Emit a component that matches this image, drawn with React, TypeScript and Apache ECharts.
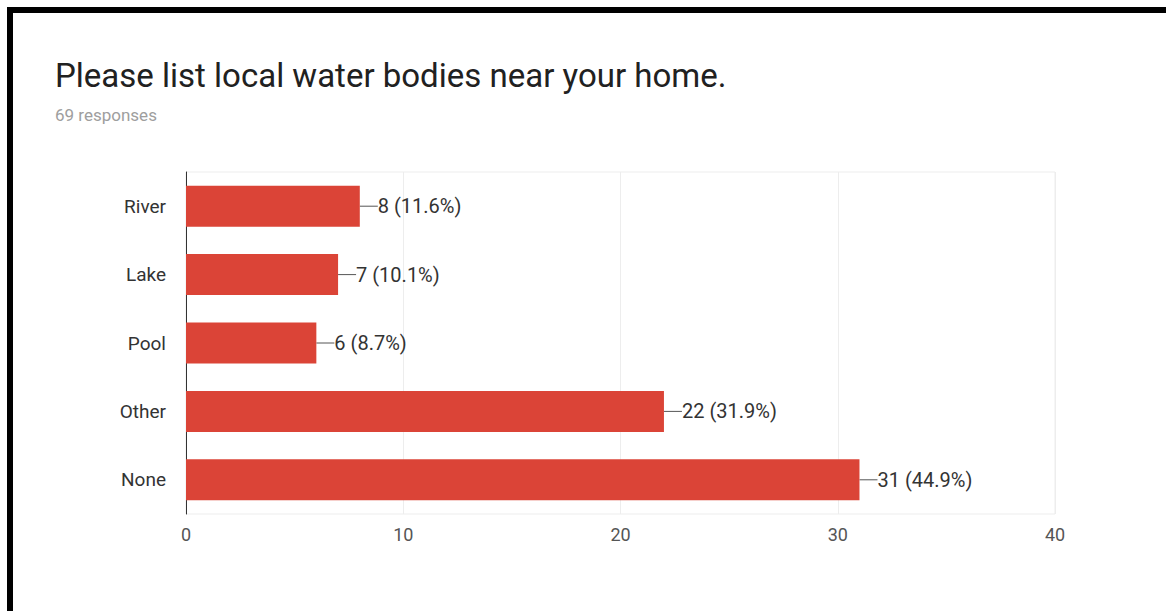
import React, { useEffect, useRef } from "react";
import * as echarts from "echarts";

const TITLE = "Please list local water bodies near your home.";
const SUBTITLE = "69 responses";
const categories = ["River", "Lake", "Pool", "Other", "None"];
const counts = [8, 7, 6, 22, 31];
const percents = ["11.6%", "10.1%", "8.7%", "31.9%", "44.9%"];
const xTicks = [0, 10, 20, 30, 40];

export default function App() {
  const ref = useRef<HTMLDivElement>(null);
  useEffect(() => {
    if (!ref.current) return;
    const chart = echarts.init(ref.current, null, { renderer: "svg" });
    const font = "Roboto, Arial, sans-serif";
    chart.setOption({
      animation: false,
      backgroundColor: "#ffffff",
      textStyle: { fontFamily: font },
      graphic: [
        { type: "rect", shape: { x: 7, y: 7, width: 1159, height: 6 }, style: { fill: "#000" } },
        { type: "rect", shape: { x: 7, y: 7, width: 6, height: 604 }, style: { fill: "#000" } },
        {
          type: "text",
          left: 55,
          top: 59,
          style: { text: TITLE, font: `33px ${font}`, fill: "#212121" },
        },
        {
          type: "text",
          left: 55,
          top: 106,
          style: { text: SUBTITLE, font: `17px ${font}`, fill: "#9e9e9e" },
        },
      ],
      grid: {
        left: 186,
        top: 172,
        width: 869,
        height: 342,
        containLabel: false,
        show: true,
        borderColor: "#ededed",
        borderWidth: 1,
      },
      xAxis: {
        type: "value",
        min: xTicks[0],
        max: xTicks[xTicks.length - 1],
        interval: 10,
        axisLine: { show: false },
        axisTick: { show: false },
        axisLabel: { color: "#555", fontSize: 18, margin: 11, fontFamily: font },
        splitLine: { show: true, lineStyle: { color: "#ededed", width: 1 } },
      },
      yAxis: {
        type: "category",
        data: categories,
        inverse: true,
        axisLine: { show: true, lineStyle: { color: "#333", width: 1 } },
        axisTick: { show: false },
        axisLabel: { color: "#333", fontSize: 19, margin: 20, fontFamily: font },
        splitLine: { show: false },
      },
      series: [
        {
          type: "bar",
          data: counts,
          barWidth: "60%",
          itemStyle: { color: "#db4437" },
          label: {
            show: true,
            position: "right",
            distance: 0,
            color: "#333",
            fontSize: 20,
            fontFamily: font,
            formatter: (p: any) => `${p.value} (${percents[p.dataIndex]})`,
          },
          labelLayout: { dx: 18 },
          labelLine: { show: true, lineStyle: { color: "#555", width: 1 } },
        },
      ],
    });
    return () => chart.dispose();
  }, []);
  return (
    <div
      ref={ref}
      style={{ position: "absolute", left: 0, top: 0, width: 1166, height: 611 }}
    />
  );
}
